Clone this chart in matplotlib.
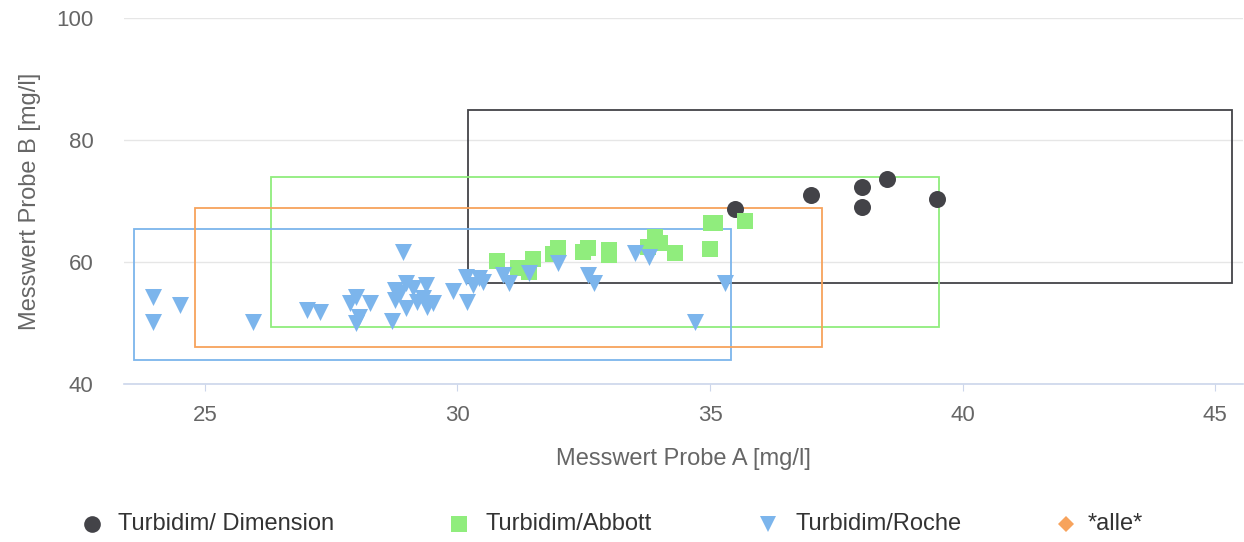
import matplotlib.pyplot as plt
from matplotlib.lines import Line2D
from matplotlib.patches import Rectangle

plt.rcParams["font.family"] = ["Liberation Sans", "DejaVu Sans"]

# Turbidim/ Dimension
dim_x = [35.5, 37.0, 38.0, 38.0, 38.5, 39.5]
dim_y = [68.7, 71.0, 72.3, 69.0, 73.6, 70.3]

# Turbidim/Abbott
abb_x = [30.78, 31.20, 31.42, 31.50, 31.89, 31.99, 32.49, 32.58, 33.0, 33.0,
         33.77, 33.91, 34.01, 34.31, 35.0, 35.02, 35.10, 35.69]
abb_y = [60.2, 59.0, 58.4, 60.5, 61.3, 62.3, 61.6, 62.3, 62.0, 61.2,
         62.5, 64.1, 63.1, 61.5, 62.1, 66.4, 66.4, 66.7]

# Turbidim/Roche
roc_x = [23.97, 23.97, 24.50, 25.95, 27.02, 27.28, 27.87, 27.99, 28.27, 28.05,
         27.99, 28.70, 28.92, 28.76, 28.98, 28.86, 28.98, 29.12, 29.20, 29.38,
         29.32, 29.40, 29.51, 28.76, 29.91, 30.17, 30.19, 30.31, 30.43, 30.50,
         30.90, 31.02, 31.42, 31.99, 32.58, 32.70, 33.51, 33.79, 35.30, 34.70]
roc_y = [54.3, 50.2, 53.0, 50.2, 52.1, 51.8, 53.3, 54.3, 53.3, 51.0,
         50.0, 50.3, 61.6, 55.4, 56.6, 54.9, 52.5, 55.7, 53.4, 56.2,
         54.1, 52.6, 53.3, 53.8, 55.3, 57.5, 53.4, 56.2, 57.4, 56.7,
         57.9, 56.6, 58.2, 59.8, 57.9, 56.6, 61.5, 60.8, 56.6, 50.2]

# range boxes per series: x0, x1, y0, y1
box_dim = [30.21, 45.34, 56.6, 84.9]
box_abb = [26.31, 39.53, 49.3, 73.9]
box_alle = [24.80, 37.22, 46.1, 68.9]
box_roc = [23.59, 35.42, 43.9, 65.4]

names = ["Turbidim/ Dimension", "Turbidim/Abbott", "Turbidim/Roche", "*alle*"]
colors = ["#434348", "#90ed7d", "#7cb5ec", "#f7a35c"]
markers = ["o", "s", "v", "D"]

W, H = 1244, 542
fig = plt.figure(figsize=(W / 100, H / 100), dpi=100)
ax = fig.add_axes([124 / W, 158 / H, (1243 - 124) / W, (384 - 18) / H])

ax.set_xlim(23.40, 45.55)
ax.set_ylim(40, 100)
ax.set_xticks([25, 30, 35, 40, 45])
ax.set_yticks([40, 60, 80, 100])

ax.grid(axis="y", color="#e6e6e6", lw=1.0)
ax.set_axisbelow(True)
for s in ["top", "right", "left"]:
    ax.spines[s].set_visible(False)
ax.spines["bottom"].set_color("#ccd6eb")
ax.spines["bottom"].set_linewidth(1.2)
ax.tick_params(axis="x", length=5, width=0.8, color="#ccd6eb", pad=10,
               labelsize=16, labelcolor="#666666")
ax.tick_params(axis="y", length=0, pad=22, labelsize=16, labelcolor="#666666")

boxes = [box_dim, box_abb, box_roc, box_alle]
for b, c in zip(boxes, colors):
    ax.add_patch(Rectangle((b[0], b[2]), b[1] - b[0], b[3] - b[2],
                           fill=False, edgecolor=c, lw=1.3, zorder=2))

ax.scatter(dim_x, dim_y, s=150, marker="o", color=colors[0], lw=0, zorder=3)
ax.scatter(abb_x, abb_y, s=135, marker="s", color=colors[1], lw=0, zorder=4)
ax.scatter(roc_x, roc_y, s=150, marker="v", color=colors[2], lw=0, zorder=5)

ax.set_xlabel("Messwert Probe A [mg/l]", fontsize=17, color="#666666", labelpad=16)
ax.set_ylabel("Messwert Probe B [mg/l]", fontsize=17, color="#666666", labelpad=11)

# legend
mark_x = [92, 459, 768, 1066]
text_x = [118, 486, 795, 1088]
ly = (H - 524) / H
msize = [12, 12, 12, 8.5]
for mx, tx, n, c, m, ms in zip(mark_x, text_x, names, colors, markers, msize):
    fig.add_artist(Line2D([mx / W], [ly], marker=m, color=c, markersize=ms,
                          lw=0, mew=0, transform=fig.transFigure))
    fig.text(tx / W, ly, n, fontsize=17, color="#333333", va="center", ha="left")

fig.savefig("out.png", dpi=100)
